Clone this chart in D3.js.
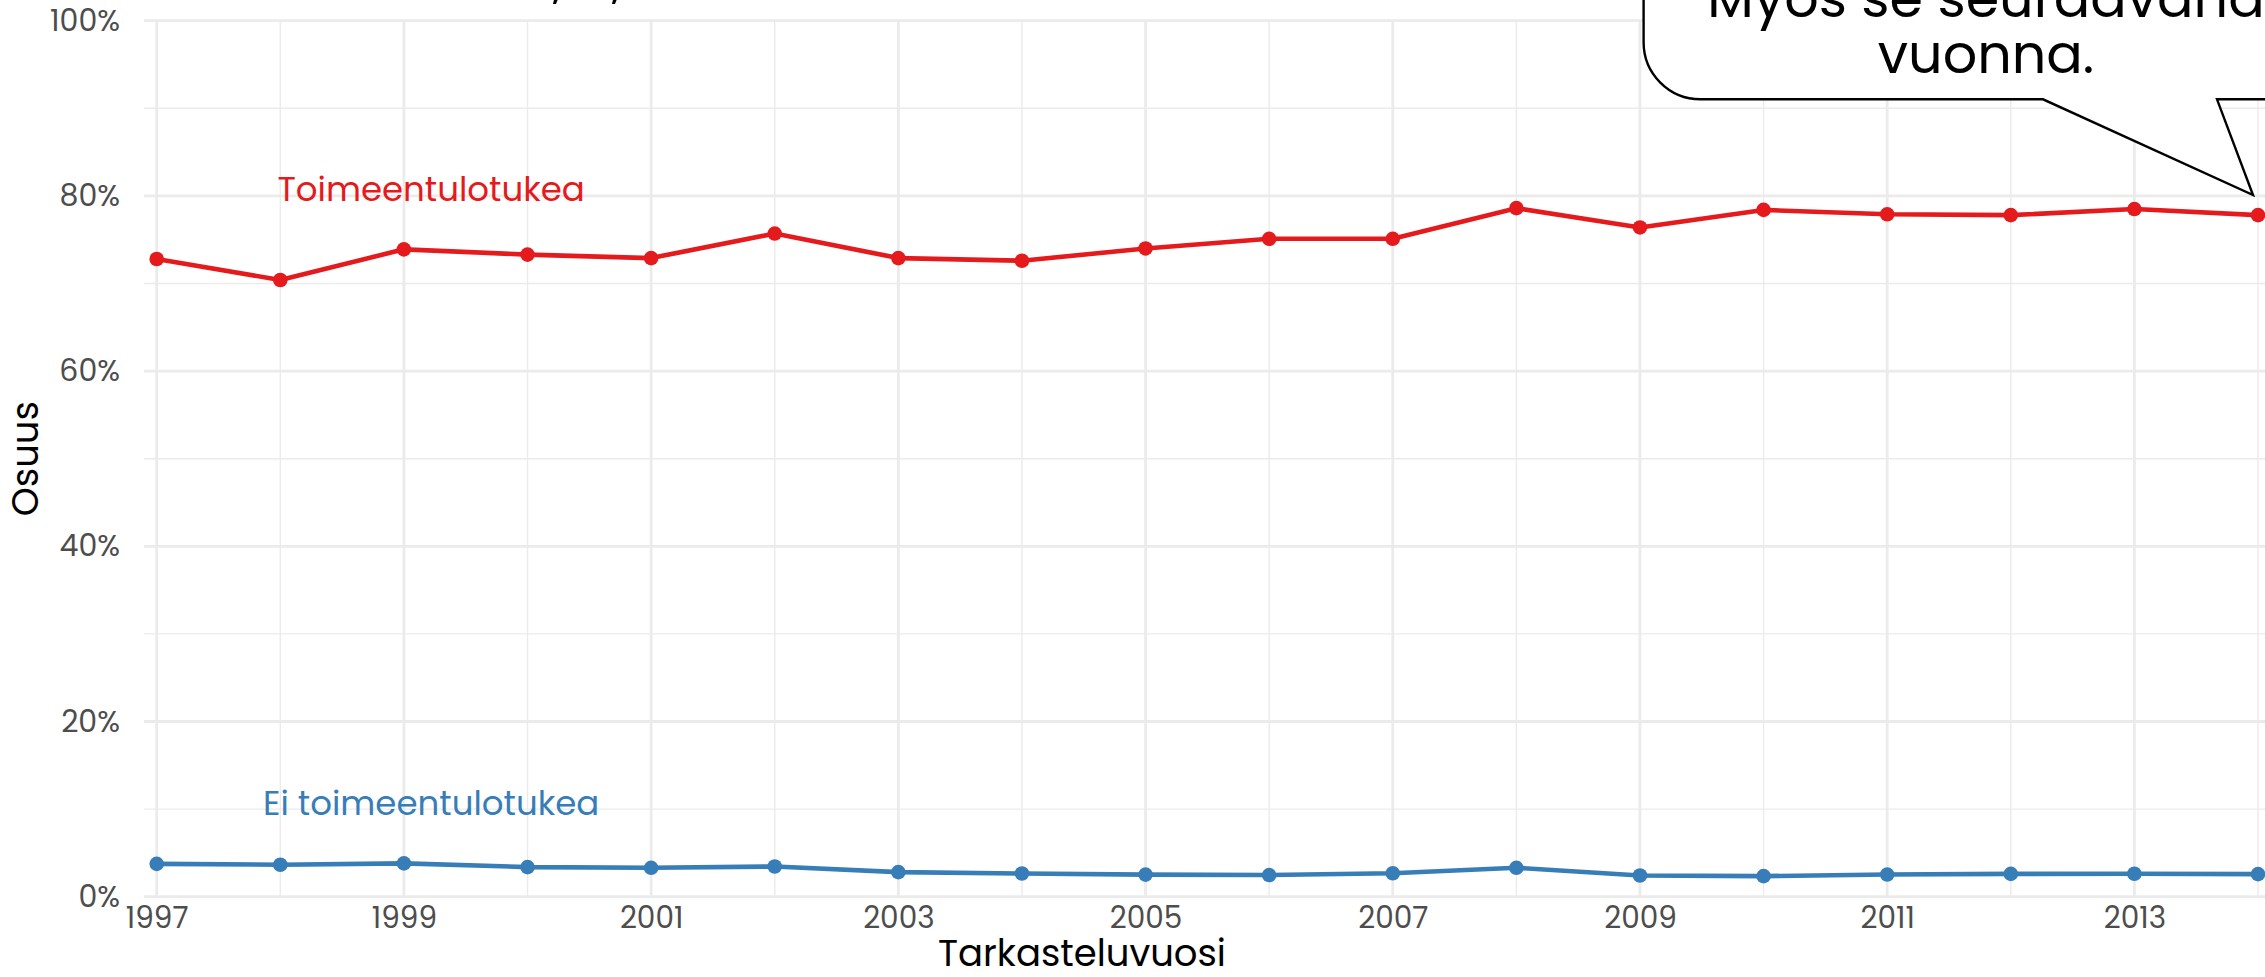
<!DOCTYPE html>
<html>
<head>
<meta charset="utf-8">
<script src="https://cdn.jsdelivr.net/npm/d3@7"></script>
<style>
  html, body { margin: 0; padding: 0; background: #ffffff; }
  svg { display: block; }
  text { font-family: Poppins, Inter, "Open Sans", sans-serif; }
</style>
</head>
<body>
<svg id="chart" width="2265" height="977"></svg>
<script>
// ---- data ----
const years = [1997, 1998, 1999, 2000, 2001, 2002, 2003, 2004, 2005, 2006, 2007, 2008, 2009, 2010, 2011, 2012, 2013, 2014];
const toimeentulotukea = [72.8, 70.4, 73.9, 73.3, 72.9, 75.7, 72.9, 72.6, 74.0, 75.1, 75.1, 78.6, 76.4, 78.4, 77.9, 77.8, 78.5, 77.8];
const eiToimeentulotukea = [3.75, 3.65, 3.8, 3.38, 3.3, 3.45, 2.8, 2.65, 2.52, 2.47, 2.68, 3.3, 2.42, 2.35, 2.53, 2.6, 2.62, 2.58];
const seriesNames = ["Toimeentulotukea", "Ei toimeentulotukea"];
const seriesColors = ["#E41A1C", "#377EB8"];
const labelYear = [1999.22, 1999.22];
const labelValue = [80.8, 10.7];
const yTicks = [0, 20, 40, 60, 80, 100];
const yMinor = [10, 30, 50, 70, 90];
const xTicks = [1997, 1999, 2001, 2003, 2005, 2007, 2009, 2011, 2013];
const xMinor = [1998, 2000, 2002, 2004, 2006, 2008, 2010, 2012, 2014];
const calloutLines = ["Myös se seuraavana", "vuonna."];
const xTitle = "Tarkasteluvuosi";
const yTitle = "Osuus";

// ---- layout ----
const svg = d3.select("#chart");
const x = d3.scaleLinear().domain([1997, 2014]).range([156.7, 2258]);
const y = d3.scaleLinear().domain([0, 100]).range([896.7, 20.7]);
const panelLeft = 144, panelRight = 2400;
const gridColor = "#EBEBEB";

const grid = svg.append("g");
grid.selectAll(".hmin").data(yMinor).enter().append("line")
  .attr("x1", panelLeft).attr("x2", panelRight)
  .attr("y1", d => y(d)).attr("y2", d => y(d))
  .attr("stroke", gridColor).attr("stroke-width", 1.4);
grid.selectAll(".vmin").data(xMinor).enter().append("line")
  .attr("x1", d => x(d)).attr("x2", d => x(d))
  .attr("y1", y(0)).attr("y2", y(100))
  .attr("stroke", gridColor).attr("stroke-width", 1.4);
grid.selectAll(".hmaj").data(yTicks).enter().append("line")
  .attr("x1", panelLeft).attr("x2", panelRight)
  .attr("y1", d => y(d)).attr("y2", d => y(d))
  .attr("stroke", gridColor).attr("stroke-width", 2.8);
grid.selectAll(".vmaj").data(xTicks).enter().append("line")
  .attr("x1", d => x(d)).attr("x2", d => x(d))
  .attr("y1", y(0)).attr("y2", y(100))
  .attr("stroke", gridColor).attr("stroke-width", 2.8);

// axes (labels only)
const yAxis = svg.append("g").attr("transform", `translate(${panelLeft - 12},0)`)
  .call(d3.axisLeft(y).tickValues(yTicks).tickSize(0).tickPadding(12).tickFormat(d => d + "%"));
yAxis.select(".domain").remove();
yAxis.selectAll("text").attr("font-size", 30).attr("fill", "#4D4D4D")
  .style("font-family", "Poppins, Inter, sans-serif");

const xAxis = svg.append("g").attr("transform", `translate(0,${y(0)})`)
  .call(d3.axisBottom(x).tickValues(xTicks).tickSize(0).tickPadding(10).tickFormat(d3.format("d")));
xAxis.select(".domain").remove();
xAxis.selectAll("text").attr("font-size", 29.5).attr("fill", "#4D4D4D")
  .style("font-family", "Poppins, Inter, sans-serif");

// lines and points
const seriesData = [toimeentulotukea, eiToimeentulotukea];
const line = d3.line().x((d, i) => x(years[i])).y(d => y(d));
seriesData.forEach((vals, s) => {
  svg.append("path").datum(vals)
    .attr("d", line).attr("fill", "none")
    .attr("stroke", seriesColors[s]).attr("stroke-width", 4.6)
    .attr("stroke-linejoin", "round");
  svg.selectAll(".pt" + s).data(vals).enter().append("circle")
    .attr("cx", (d, i) => x(years[i])).attr("cy", d => y(d))
    .attr("r", 7.3).attr("fill", seriesColors[s]);
  svg.append("text")
    .attr("x", x(labelYear[s])).attr("y", y(labelValue[s]))
    .attr("text-anchor", "middle").attr("dominant-baseline", "central")
    .attr("font-size", 34).attr("fill", seriesColors[s])
    .text(seriesNames[s]);
});

// axis titles
svg.append("text").attr("x", 1082).attr("y", 966)
  .attr("text-anchor", "middle").attr("font-size", 37).attr("fill", "#000")
  .text(xTitle);
svg.append("text").attr("transform", `translate(38,${(y(0) + y(100)) / 2}) rotate(-90)`)
  .attr("text-anchor", "middle").attr("font-size", 37).attr("fill", "#000")
  .text(yTitle);

// cut-off title remnants at top
svg.append("text").attr("x", 553).attr("y", -3).attr("font-size", 50).attr("fill", "#000").text(",");
svg.append("text").attr("x", 612).attr("y", -3).attr("font-size", 50).attr("fill", "#000").text(",");

// callout
const cx0 = 1643.6, cy0 = 99.3, r = 57;
const tipX = x(2014) - 5, tipY = 195;
const callout = d3.path();
callout.moveTo(cx0, -300);
callout.lineTo(cx0, cy0 - r);
callout.arcTo(cx0, cy0, cx0 + r, cy0, r);
callout.lineTo(2043, cy0);
callout.lineTo(tipX, tipY);
callout.lineTo(2217, cy0);
callout.lineTo(2500, cy0);
callout.lineTo(2500, -300);
callout.closePath();
svg.append("path").attr("d", callout.toString())
  .attr("fill", "#ffffff").attr("stroke", "#000").attr("stroke-width", 2.4)
  .attr("stroke-linejoin", "miter");
calloutLines.forEach((t, i) => {
  svg.append("text").attr("x", 1986).attr("y", 16.7 + i * 56)
    .attr("text-anchor", "middle").attr("font-size", 54).attr("fill", "#000")
    .text(t);
});
</script>
</body>
</html>
